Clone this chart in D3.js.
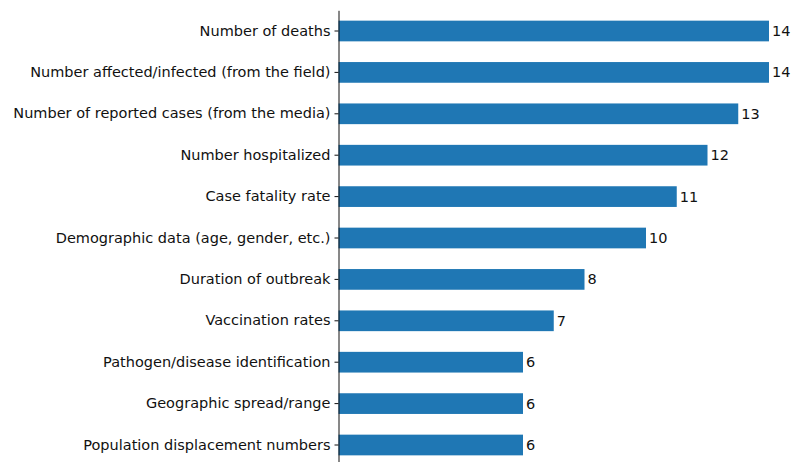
<!DOCTYPE html>
<html>
<head>
<meta charset="utf-8">
<script src="https://cdn.jsdelivr.net/npm/d3@7"></script>
<style>
  body { margin: 0; background: #fff; }
  svg { display: block; font-family: "DejaVu Sans", sans-serif; }
</style>
</head>
<body>
<div id="chart"></div>
<script>
const width = 793;
const height = 462;

const categories = [
    "Number of deaths",
    "Number affected/infected (from the field)",
    "Number of reported cases (from the media)",
    "Number hospitalized",
    "Case fatality rate",
    "Demographic data (age, gender, etc.)",
    "Duration of outbreak",
    "Vaccination rates",
    "Pathogen/disease identification",
    "Geographic spread/range",
    "Population displacement numbers"
];
const counts = [14, 14, 13, 12, 11, 10, 8, 7, 6, 6, 6];

const x = d3.scaleLinear()
    .domain([0, 14])
    .range([338.5, 769]);

const y = d3.scaleBand()
    .domain(categories)
    .range([10.3, 465.7])
    .paddingInner(0.5)
    .paddingOuter(0.25);

const svg = d3.select("#chart").append("svg")
    .attr("width", width)
    .attr("height", height);

svg.append("g")
  .selectAll("rect")
  .data(categories)
  .join("rect")
    .attr("x", x(0))
    .attr("y", d => y(d))
    .attr("width", (d, i) => x(counts[i]) - x(0))
    .attr("height", y.bandwidth())
    .attr("fill", "#1f77b4");

svg.append("g")
  .selectAll("text")
  .data(categories)
  .join("text")
    .attr("x", (d, i) => x(counts[i]) + 3)
    .attr("y", d => y(d) + y.bandwidth() / 2)
    .attr("dy", "0.35em")
    .attr("font-size", 14.5)
    .attr("fill", "#111")
    .text((d, i) => counts[i]);

const yAxis = svg.append("g")
    .attr("transform", `translate(${x(0)},0)`)
    .call(d3.axisLeft(y).tickSize(4).tickSizeOuter(0).tickPadding(4));

yAxis.selectAll("text")
    .attr("font-size", 14.5)
    .attr("font-family", "DejaVu Sans, sans-serif")
    .attr("fill", "#111");
yAxis.select(".domain").attr("stroke", "#111");
yAxis.selectAll(".tick line").attr("stroke", "#111");
</script>
</body>
</html>
